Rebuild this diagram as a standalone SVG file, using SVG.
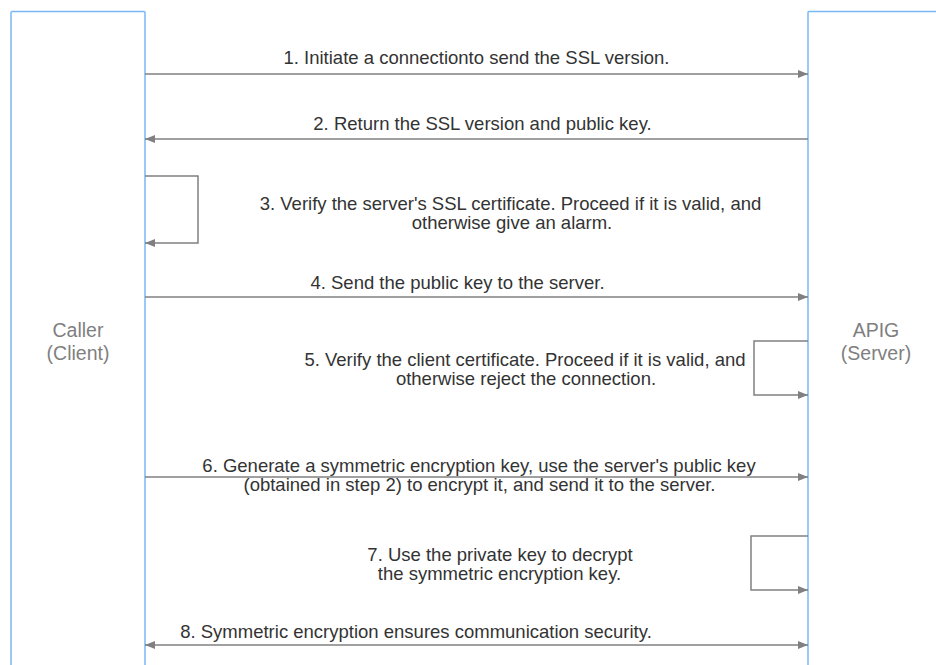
<svg xmlns="http://www.w3.org/2000/svg" width="936" height="665" viewBox="0 0 936 665">
<style>
.box{fill:#ffffff;stroke:#7ab8f5;stroke-width:1.5}
.name{font-family:"Liberation Sans",Arial,sans-serif;font-size:19.5px;fill:#7f7f7f;text-anchor:middle}
.lbl{font-family:"Liberation Sans",Arial,sans-serif;font-size:18.5px;fill:#333333;text-anchor:middle}
.conn{fill:none;stroke:#808080;stroke-width:1.5}
</style>
<defs>
<marker id="ah" viewBox="0 0 10 10" refX="10" refY="5" markerWidth="10" markerHeight="10" markerUnits="userSpaceOnUse" orient="auto-start-reverse">
<path d="M0,1 L10,5 L0,9 Z" fill="#808080"/>
</marker>
</defs>
<rect width="936" height="665" fill="#ffffff"/>
<g id="caller">
<rect class="box" x="11" y="11.5" width="134" height="700" rx="1"/>
<text class="name" x="78" y="337">Caller</text>
<text class="name" x="78" y="360">(Client)</text>
</g>
<g id="apig">
<rect class="box" x="808" y="11.5" width="200" height="700" rx="1"/>
<text class="name" x="876" y="337">APIG</text>
<text class="name" x="876" y="360">(Server)</text>
</g>
<g id="connectors">
<path class="conn" d="M145,74 H808" marker-end="url(#ah)"/>
<path class="conn" d="M808,139 H145" marker-end="url(#ah)"/>
<path class="conn" d="M145,176 H198 V243 H145" marker-end="url(#ah)"/>
<path class="conn" d="M145,297 H808" marker-end="url(#ah)"/>
<path class="conn" d="M808,341 H754 V395 H808" marker-end="url(#ah)"/>
<path class="conn" d="M145,477 H808" marker-end="url(#ah)"/>
<path class="conn" d="M808,536 H751 V590 H808" marker-end="url(#ah)"/>
<path class="conn" d="M145,645 H808" marker-start="url(#ah)" marker-end="url(#ah)"/>
</g>
<g id="labels">
<text class="lbl" x="476.5" y="64">1. Initiate a connectionto send the SSL version.</text>
<text class="lbl" x="482.5" y="129.5">2. Return the SSL version and public key.</text>
<text class="lbl" x="510.5" y="210">3. Verify the server's SSL certificate. Proceed if it is valid, and</text>
<text class="lbl" x="512" y="229">otherwise give an alarm.</text>
<text class="lbl" x="457.5" y="289">4. Send the public key to the server.</text>
<text class="lbl" x="525" y="366">5. Verify the client certificate. Proceed if it is valid, and</text>
<text class="lbl" x="526" y="385">otherwise reject the connection.</text>
<text class="lbl" x="479" y="471.5">6. Generate a symmetric encryption key, use the server's public key</text>
<text class="lbl" x="479.5" y="491">(obtained in step 2) to encrypt it, and send it to the server.</text>
<text class="lbl" x="500" y="561">7. Use the private key to decrypt</text>
<text class="lbl" x="499.5" y="580">the symmetric encryption key.</text>
<text class="lbl" x="416" y="638">8. Symmetric encryption ensures communication security.</text>
</g>
</svg>
